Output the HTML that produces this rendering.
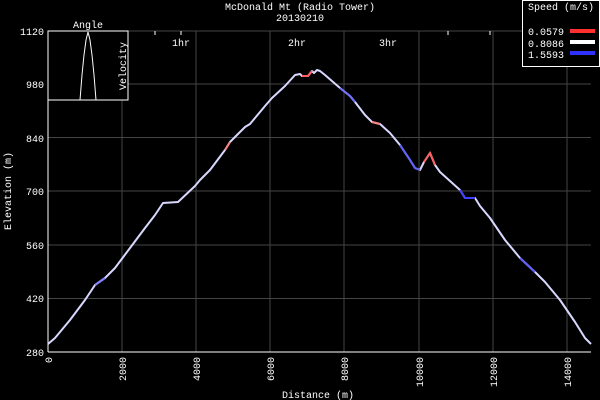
<!DOCTYPE html>
<html><head><style>body{margin:0;background:#000}svg{display:block}text{font-family:"Liberation Mono","DejaVu Sans Mono",monospace;font-size:10px;fill:#fff}</style></head><body>
<svg width="600" height="400" xmlns="http://www.w3.org/2000/svg">
<rect width="600" height="400" fill="#000"/>
<g stroke="#444" stroke-width="1">
<line x1="122" y1="31" x2="122" y2="352"/><line x1="196" y1="31" x2="196" y2="352"/><line x1="270" y1="31" x2="270" y2="352"/><line x1="344" y1="31" x2="344" y2="352"/><line x1="419" y1="31" x2="419" y2="352"/><line x1="493" y1="31" x2="493" y2="352"/><line x1="567" y1="31" x2="567" y2="352"/>
<line x1="48" y1="84" x2="591" y2="84"/><line x1="48" y1="137.5" x2="591" y2="137.5"/><line x1="48" y1="191" x2="591" y2="191"/><line x1="48" y1="245" x2="591" y2="245"/><line x1="48" y1="298.5" x2="591" y2="298.5"/>
<line x1="48" y1="31" x2="591" y2="31"/>
</g>
<g stroke="#fff"><line x1="48" y1="31" x2="48" y2="352"/><line x1="48" y1="352" x2="591" y2="352"/>
<line x1="155" y1="31" x2="155" y2="35"/><line x1="181" y1="31" x2="181" y2="35"/><line x1="448" y1="31" x2="448" y2="35"/><line x1="490" y1="31" x2="490" y2="35"/></g>
<polyline fill="none" stroke="#d8d8ff" stroke-width="2" stroke-linejoin="round" points="48,344 55,338 70,320 85,300 95,285 105,278 115,268 130,248 145,228 155,215 163,203 178,202 195,186 200,180 210,170 225,150 230,142 240,132 245,127 250,124 255,118 265,106 272,98 285,86 295,75 300,74 302,76 308,76 312,71 314,73 317,70 320,71 325,75 340,88 350,96 355,102 365,115 372,122 380,124 390,133 400,145 410,160 415,168 420,170 424,162 430,153 435,165 440,172 460,190 465,198 475,198 480,206 490,218 505,240 520,258 535,272 545,282 560,300 575,322 585,338 591,344"/>
<g fill="none" stroke-width="2">
<polyline stroke="#ff6060" points="302,76 308,76 312,71"/>
<polyline stroke="#ff6060" points="424,162 430,153 435,165"/>
<polyline stroke="#ff8080" points="372,122 380,124"/>
<polyline stroke="#ff8080" points="225,150 230,142"/>
<polyline stroke="#6060ff" points="400,145 410,160 415,168 420,170"/>
<polyline stroke="#4040ff" points="460,190 465,198 475,198"/>
<polyline stroke="#7070ff" points="340,88 350,96 355,102"/>
<polyline stroke="#8080ff" points="95,285 105,278"/>
<polyline stroke="#6060ff" points="520,258 535,272"/>
</g>
<rect x="48" y="31" width="80" height="69" fill="#000" stroke="#fff"/>
<polyline fill="none" stroke="#fff" points="80,100 82,75 84,55 86,40 88,32 90,40 92,55 94,75 96,100"/>
<text x="88" y="28" text-anchor="middle">Angle</text>
<text transform="translate(126,66) rotate(-90)" text-anchor="middle">Velocity</text>
<text x="300" y="10" text-anchor="middle">McDonald Mt (Radio Tower)</text>
<text x="300" y="21" text-anchor="middle">20130210</text>
<g text-anchor="end"><text x="44" y="35">1120</text><text x="44" y="88">980</text><text x="44" y="142">840</text><text x="44" y="195">700</text><text x="44" y="249">560</text><text x="44" y="302">420</text><text x="44" y="356">280</text></g>
<text x="181" y="46" text-anchor="middle">1hr</text><text x="297" y="46" text-anchor="middle">2hr</text><text x="388" y="46" text-anchor="middle">3hr</text>
<g text-anchor="end"><text transform="translate(52,357) rotate(-90)">0</text><text transform="translate(126,357) rotate(-90)">2000</text><text transform="translate(200,357) rotate(-90)">4000</text><text transform="translate(274,357) rotate(-90)">6000</text><text transform="translate(348,357) rotate(-90)">8000</text><text transform="translate(423,357) rotate(-90)">10000</text><text transform="translate(497,357) rotate(-90)">12000</text><text transform="translate(571,357) rotate(-90)">14000</text></g>
<text x="318" y="398" text-anchor="middle">Distance (m)</text>
<text transform="translate(11,191) rotate(-90)" text-anchor="middle">Elevation (m)</text>
<rect x="522.5" y="0.5" width="77" height="66" fill="#000" stroke="#fff"/>
<text x="528" y="10">Speed (m/s)</text>
<text x="528" y="35">0.0579</text><text x="528" y="47">0.8086</text><text x="528" y="58">1.5593</text>
<rect x="570" y="29" width="25" height="4" fill="#ff3030"/><rect x="570" y="40" width="25" height="4" fill="#fff"/><rect x="570" y="51" width="25" height="4" fill="#3030ff"/>
</svg></body></html>
